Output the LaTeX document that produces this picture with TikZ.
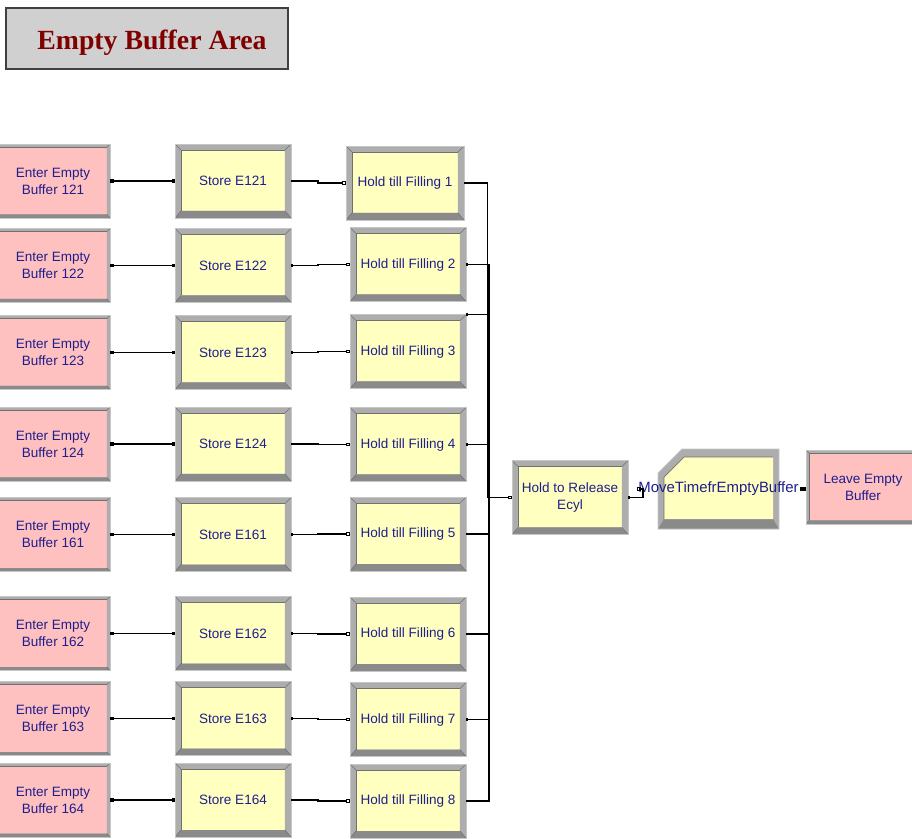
\documentclass[tikz,border=0pt]{standalone}
\usepackage{fontspec}
\usetikzlibrary{arrows.meta}
\newfontfamily\arenafont{Liberation Sans}
\newfontfamily\titleserif{Liberation Serif}
\definecolor{modyellow}{HTML}{FFFFC0}
\definecolor{modpink}{HTML}{FFC0C0}
\definecolor{modtext}{HTML}{1E1E8C}
\definecolor{bandgray}{HTML}{ADADAD}
\definecolor{banddark}{HTML}{8A8A8A}
\definecolor{bandline}{HTML}{707070}
\definecolor{titlered}{HTML}{800000}
\definecolor{titlegray}{HTML}{D0D0D0}

\begin{document}
\begin{tikzpicture}[x=0.02cm,y=-0.02cm,
    module/.style={rectangle,outer sep=0pt,inner sep=1pt,align=center,text=modtext,
      font=\arenafont\fontsize{7.7}{9.6}\selectfont,minimum width=2.32cm,minimum height=1.48cm},
    process/.style={module,fill=modyellow},
    create/.style={module,fill=modpink,minimum width=2.28cm},
    titlebox/.style={rectangle,draw=black!75,line width=0.8pt,fill=titlegray,text=titlered,
      minimum width=5.64cm,minimum height=1.22cm,text height=15.5pt,text depth=3pt,
      font=\titleserif\bfseries\fontsize{15.8}{18}\selectfont},
    link/.style={line width=0.7pt,{Square[length=2pt,width=2pt]}-{Square[length=2pt,width=2pt]}},
    feed/.style={line width=0.65pt,{Square[length=1.4pt,width=1.4pt]}-{Square[open,length=2.2pt,width=2.2pt]}},
    flow/.style={line width=0.65pt,{Square[length=1.4pt,width=1.4pt]}-{Square[open,length=2.2pt,width=2.2pt]}}]
  \useasboundingbox (0,0) rectangle (912,838);
  \clip (0,0) rectangle (912,838);

  \node[titlebox] (title) at (147,38.5) {\hspace*{0.2cm}Empty Buffer Area};

  % arrivals
  \node[create] (e1) at (53,181) {Enter Empty\\Buffer 121};
  \node[create] (e2) at (53,265.5) {Enter Empty\\Buffer 122};
  \node[create] (e3) at (53,352.5) {Enter Empty\\Buffer 123};
  \node[create] (e4) at (53,444) {Enter Empty\\Buffer 124};
  \node[create] (e5) at (53,534.5) {Enter Empty\\Buffer 161};
  \node[create] (e6) at (53,633.5) {Enter Empty\\Buffer 162};
  \node[create] (e7) at (53,718.5) {Enter Empty\\Buffer 163};
  \node[create] (e8) at (53,800) {Enter Empty\\Buffer 164};

  % storages
  \node[process] (s1) at (233,181) {Store E121};
  \node[process] (s2) at (233,265.5) {Store E122};
  \node[process] (s3) at (233,352.5) {Store E123};
  \node[process] (s4) at (233,444) {Store E124};
  \node[process] (s5) at (233,534.5) {Store E161};
  \node[process] (s6) at (233,633.5) {Store E162};
  \node[process] (s7) at (233,718.5) {Store E163};
  \node[process] (s8) at (233,800) {Store E164};

  % holds
  \node[process,minimum width=2.36cm] (h1) at (405,183) {Hold till Filling 1};
  \node[process] (h2) at (408,264.5) {Hold till Filling 2};
  \node[process] (h3) at (408,351.5) {Hold till Filling 3};
  \node[process] (h4) at (408,444.5) {Hold till Filling 4};
  \node[process] (h5) at (408,534) {Hold till Filling 5};
  \node[process] (h6) at (408,634) {Hold till Filling 6};
  \node[process] (h7) at (408,719.5) {Hold till Filling 7};
  \node[process] (h8) at (408,801) {Hold till Filling 8};

  \node[process] (rel) at (570,497.5) {Hold to Release\\Ecyl};
  \node[create] (leave) at (863,487) {Leave Empty\\Buffer};

  % bevelled frames
  \foreach \n/\b/\bb in {s1/6/7,s2/6/7,s3/6/7,s4/6/7,s5/6/7,s6/6/7,s7/6/7,s8/6/7,
      h1/6/7,h2/6/7,h3/6/7,h4/6/7,h5/6/7,h6/6/7,h7/6/7,h8/6/7,rel/6/7,
      e1/3/3.5,e2/3/3.5,e3/3/3.5,e4/3/3.5,e5/3/3.5,e6/3/3.5,e7/3/3.5,e8/3/3.5,leave/3/3.5}{
    \fill[bandgray,even odd rule] (\n.north west) rectangle (\n.south east)
      ([shift={(\b,\b)}]\n.north west) rectangle ([shift={(-\b,-\bb)}]\n.south east);
    \fill[banddark] (\n.south west) -- (\n.south east) -- ([shift={(-\b,-\bb)}]\n.south east)
      -- ([shift={(\b,-\bb)}]\n.south west) -- cycle;
    \draw[bandline,line width=0.4pt] ([shift={(\b,-\bb)}]\n.south west) |- ([shift={(-\b,\b)}]\n.north east);
    \draw[bandline,line width=0.3pt] (\n.north west) -- ++(\b,\b) (\n.north east) -- ++(-\b,\b)
      (\n.south west) -- ++(\b,-\bb) (\n.south east) -- ++(-\b,-\bb);
    \draw[gray!45,line width=0.5pt] (\n.north west) rectangle (\n.south east);
  }

  % route module with cut corner
  \fill[bandgray] (682,449) -- (779,449) -- (779,529) -- (658,529) -- (658,473) -- cycle;
  \fill[banddark] (658,529) -- (779,529) -- (773,519) -- (664,519) -- cycle;
  \fill[modyellow] (684,457) -- (773,457) -- (773,519) -- (664,519) -- (664,477) -- cycle;
  \draw[bandline,line width=0.4pt] (664,519) -- (664,477) -- (684,457) -- (773,457);
  \draw[gray!45,line width=0.5pt] (682,449) -- (779,449) -- (779,529) -- (658,529) -- (658,473) -- cycle;
  \node[module,minimum width=2.42cm,minimum height=1.6cm,font=\arenafont\fontsize{8.5}{10}\selectfont]
    (move) at (718.5,489) {MoveTimefrEmptyBuffer};

  % connections
  \draw[link] (e1.east) -- (s1.west);
  \draw[link] (e2.east) -- (s2.west);
  \draw[link] (e3.east) -- (s3.west);
  \draw[link] (e4.east) -- (s4.west);
  \draw[link] (e5.east) -- (s5.west);
  \draw[link] (e6.east) -- (s6.west);
  \draw[link] (e7.east) -- (s7.west);
  \draw[link] (e8.east) -- (s8.west);

  \draw[feed] (s1.east) -- ++(27,0) |- (h1.west);
  \draw[feed] (s2.east) -- ++(27,0) |- (h2.west);
  \draw[feed] (s3.east) -- ++(27,0) |- (h3.west);
  \draw[feed] (s4.east) -- ++(27,0) |- (h4.west);
  \draw[feed] (s5.east) -- ++(27,0) |- (h5.west);
  \draw[feed] (s6.east) -- ++(27,0) |- (h6.west);
  \draw[feed] (s7.east) -- ++(27,0) |- (h7.west);
  \draw[feed] (s8.east) -- ++(27,0) |- (h8.west);

  \coordinate (bus) at (489,497.5);
  \draw[flow] (h1.east) -| ([xshift=-0.03cm]bus) -- (rel.west);
  \draw[flow] (h2.east) -| (bus) -- (rel.west);
  \draw[flow] (h3.north east) -| (bus) -- (rel.west);
  \draw[flow] (h4.east) -| (bus) -- (rel.west);
  \draw[flow] (h5.east) -| (bus) -- (rel.west);
  \draw[flow] (h6.east) -| (bus) -- (rel.west);
  \draw[flow] (h7.east) -| (bus) -- (rel.west);
  \draw[flow] (h8.east) -| (bus) -- (rel.west);

  \draw[flow] (rel.east) -- ++(15,0) |- (move.west);
  \draw[link] (move.east) -- (move.east -| leave.west);
\end{tikzpicture}
\end{document}
